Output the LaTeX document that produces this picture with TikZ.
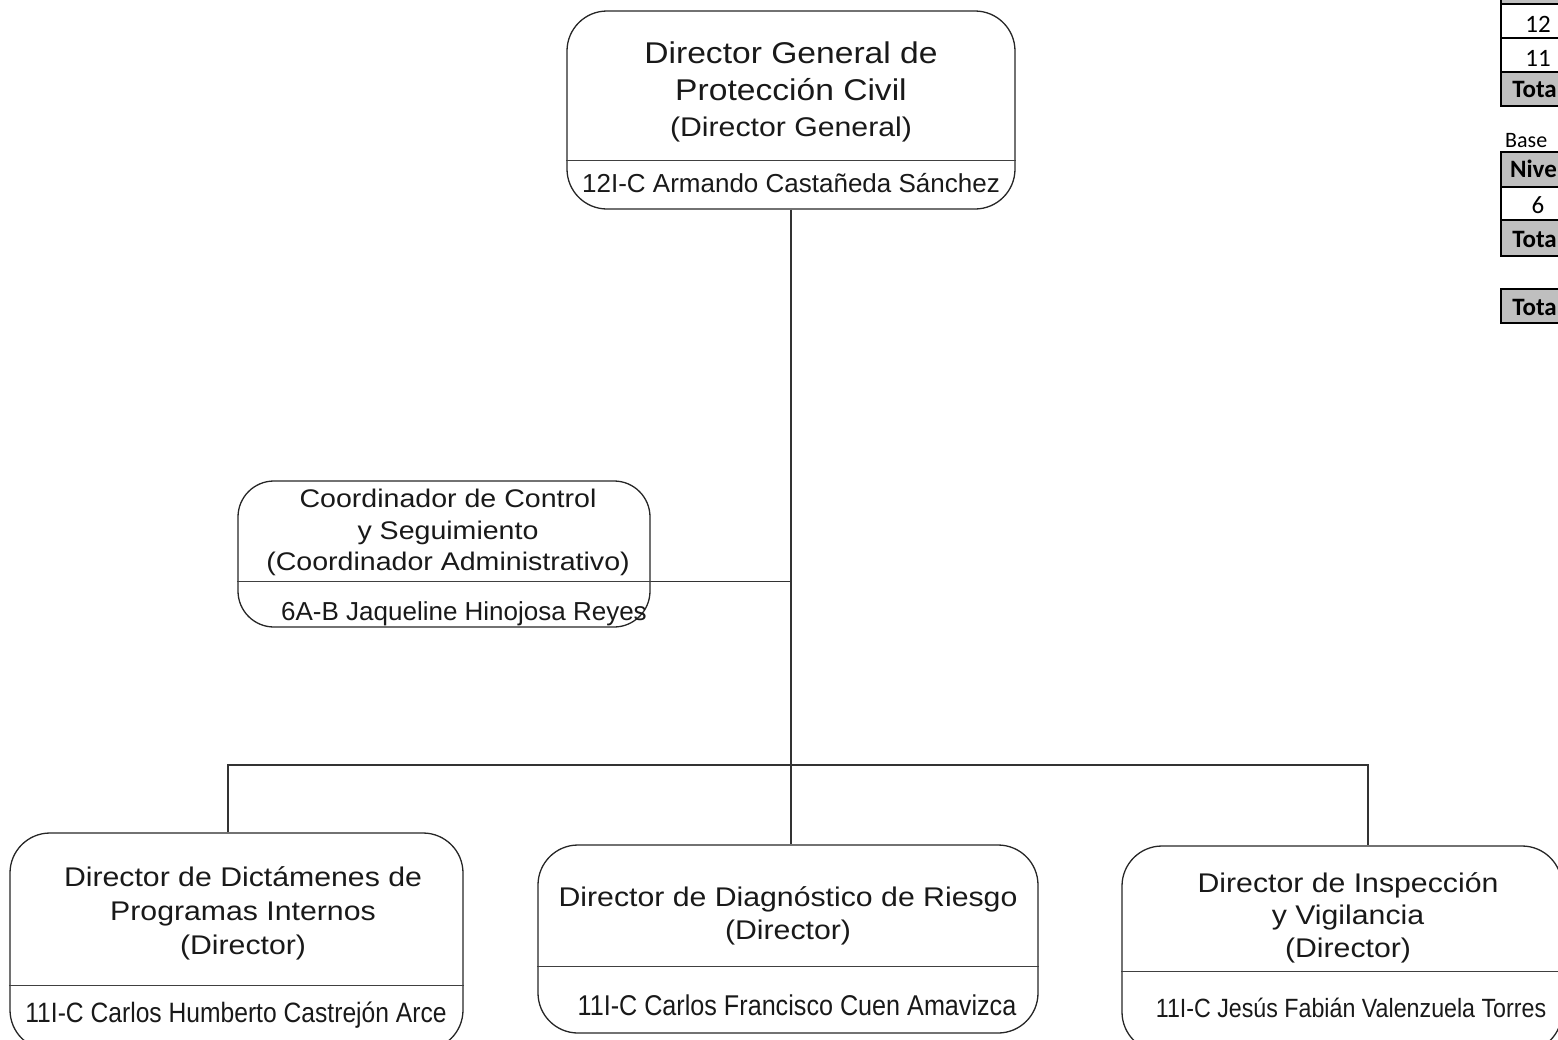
\documentclass[tikz,border=0pt]{standalone}
\usepackage{fontspec}
\setmainfont{Liberation Sans}
\newfontfamily\widefont[FakeStretch=1.12]{Liberation Sans}
\newfontfamily\narrowfont[FakeStretch=0.88]{Liberation Sans}
\newfontfamily\tablefont{Carlito}
\definecolor{cellgray}{RGB}{191,191,191}

\begin{document}
\begin{tikzpicture}[x=1pt,y=-1pt,
              unit/.style={draw=black!85,line width=1.3pt,rounded corners=40pt,inner sep=0pt},
              divider/.style={draw=black!75,line width=1.2pt},
              link/.style={draw=black!80,line width=1.6pt},
              post/.style={align=center,inner sep=0pt,anchor=north,text=black!90},
              holder/.style={inner sep=0pt,anchor=base,text=black!90},
              cell/.style={draw=black,line width=2.8pt},
              celltext/.style={inner sep=0pt,anchor=base,font=\tablefont\fontsize{25}{28}\selectfont}
            ]
              \useasboundingbox (0,0) rectangle (1558,1039);
              \clip (0,0) rectangle (1558,1039);

              \node[unit,minimum width=448pt,minimum height=198pt] (dg) at (791,110) {};
              \node[unit,rounded corners=36pt,minimum width=412pt,minimum height=146pt] (co) at (444,554) {};
              \node[unit,minimum width=453pt,minimum height=217pt] (di) at (236.5,941.5) {};
              \node[unit,minimum width=500pt,minimum height=188pt] (dx) at (788,939) {};
              \node[unit,minimum width=440pt,minimum height=206pt] (iv) at (1342,949) {};

              \draw[divider] ([yshift=49pt]dg.south west) -- ([yshift=49pt]dg.south east);
              \draw[divider] ([yshift=46pt]co.south west) -- ([yshift=46pt]co.south east) coordinate (ce);
              \draw[divider] ([yshift=65pt]di.south west) -- ([yshift=65pt]di.south east);
              \draw[divider] ([yshift=67pt]dx.south west) -- ([yshift=67pt]dx.south east);
              \draw[divider] ([yshift=81pt]iv.south west) -- ([yshift=81pt]iv.south east);

              \node[post,font=\widefont\fontsize{30}{36.5}\selectfont] (dgt) at (791,42)
                {Director General de\\Protección Civil\\{\fontsize{27}{36.5}\selectfont(Director General)}};
              \node[holder,font=\fontsize{26}{30}\selectfont] (dgn) at (791,192) {12I-C Armando Castañeda Sánchez};

              \node[post,font=\widefont\fontsize{25.5}{31.5}\selectfont] (cot) at (448,489)
                {Coordinador de Control\\y Seguimiento\\(Coordinador Administrativo)};
              \node[holder,font=\fontsize{26}{30}\selectfont] (con) at (464,620) {6A-B Jaqueline Hinojosa Reyes};

              \node[post,font=\widefont\fontsize{27}{34}\selectfont] (dit) at (243,866)
                {Director de Dictámenes de\\Programas Internos\\(Director)};
              \node[holder,font=\narrowfont\fontsize{28}{32}\selectfont] (din) at (236,1022) {11I-C Carlos Humberto Castrejón Arce};

              \node[post,font=\widefont\fontsize{27}{33}\selectfont] (dxt) at (788,886)
                {Director de Diagnóstico de Riesgo\\(Director)};
              \node[holder,font=\narrowfont\fontsize{28.6}{32}\selectfont] (dxn) at (797,1015) {11I-C Carlos Francisco Cuen Amavizca};

              \node[post,font=\widefont\fontsize{27}{32.5}\selectfont] (ivt) at (1348,872)
                {Director de Inspección\\y Vigilancia\\(Director)};
              \node[holder,font=\narrowfont\fontsize{26.4}{30}\selectfont] (ivn) at (1351,1017) {11I-C Jesús Fabián Valenzuela Torres};

              \coordinate (busL) at (228,765);
              \coordinate (busR) at (1368,765);
              \draw[link] (dg.south) -- (dg.south |- dx.north);
              \draw[link] (ce) -- (ce -| dg.south);
              \draw[link] (busL |- di.north) -- (busL) -- (busR) -- (busR |- iv.north);

              \filldraw[cell,fill=cellgray] (1501,-40) rectangle (1580,4);
              \draw[cell] (1501,4) rectangle (1580,38);
              \draw[cell] (1501,38) rectangle (1580,72);
              \filldraw[cell,fill=cellgray] (1501,72) rectangle (1580,106);
              \node[celltext] (n12) at (1538,32) {12};
              \node[celltext] (n11) at (1538,66) {11};
              \node[celltext,anchor=base east] (t1) at (1557,97) {\bfseries Tota};

              \node[celltext,anchor=base west,font=\tablefont\fontsize{22}{26}\selectfont] (base) at (1505,147) {Base};
              \filldraw[cell,fill=cellgray] (1501,152) rectangle (1580,187);
              \draw[cell] (1501,187) rectangle (1580,220);
              \filldraw[cell,fill=cellgray] (1501,220) rectangle (1580,256);
              \node[celltext,anchor=base east] (nv) at (1557,177) {\bfseries Nive};
              \node[celltext] (n6) at (1538,213) {6};
              \node[celltext,anchor=base east] (t2) at (1557,247) {\bfseries Tota};

              \filldraw[cell,fill=cellgray] (1501,289) rectangle (1580,323);
              \node[celltext,anchor=base east] (t3) at (1557,315) {\bfseries Tota};
            \end{tikzpicture}
\end{document}
